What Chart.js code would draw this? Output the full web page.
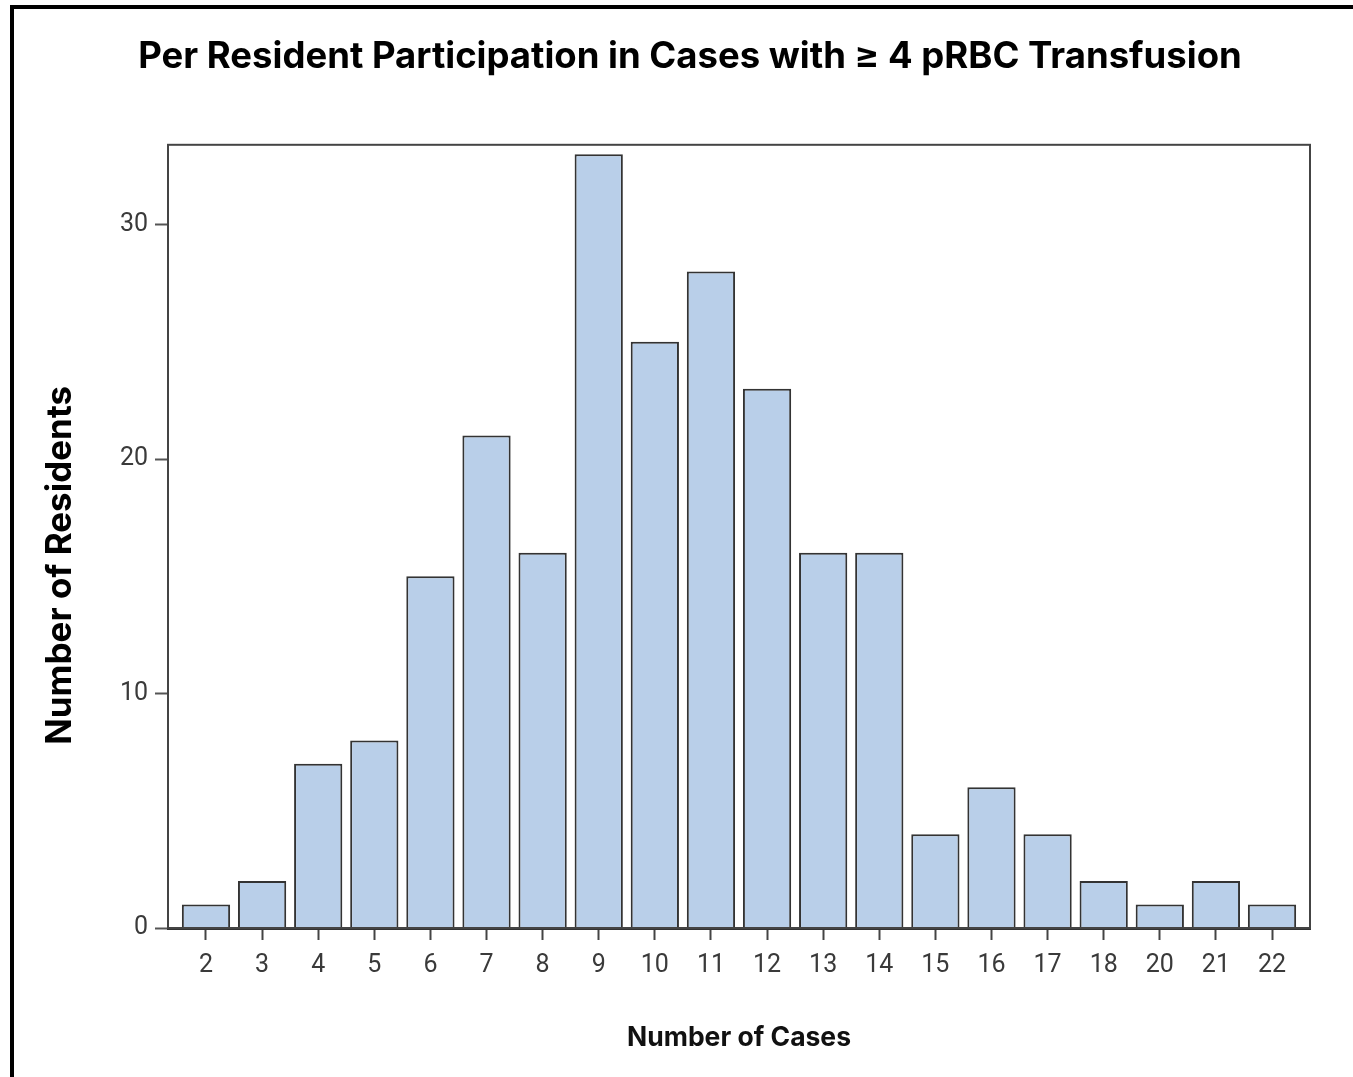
<!DOCTYPE html>
<html>
<head>
<meta charset="utf-8">
<script src="https://cdn.jsdelivr.net/npm/chart.js@4"></script>
<style>
  html, body { margin: 0; padding: 0; background: #fff; }
  #wrap { width: 1353px; height: 1077px; }
</style>
</head>
<body>
<div id="wrap"><canvas id="myChart"></canvas></div>
<script>
"use strict";

const categories = [`2`, `3`, `4`, `5`, `6`, `7`, `8`, `9`, `10`, `11`, `12`, `13`, `14`, `15`, `16`, `17`, `18`, `20`, `21`, `22`];
const residents = [1, 2, 7, 8, 15, 21, 16, 33, 25, 28, 23, 16, 16, 4, 6, 4, 2, 1, 2, 1];
const yTicks = [0, 10, 20, 30];

const tickFont = { family: `Roboto, 'Liberation Sans', sans-serif`, size: 25 };
const boldFont = `Inter, 'Liberation Sans', sans-serif`;

// outer page frame (top and left edges only) plus the plot box
const framePlugin = {
  id: `frames`,
  afterDraw(chart) {
    const { ctx, chartArea } = chart;
    ctx.save();
    ctx.strokeStyle = `#000`;
    ctx.lineWidth = 4;
    ctx.beginPath();
    ctx.moveTo(12, 1077);
    ctx.lineTo(12, 7);
    ctx.lineTo(1353, 7);
    ctx.stroke();
    ctx.strokeStyle = `#444`;
    ctx.lineWidth = 2;
    ctx.strokeRect(chartArea.left, chartArea.top, chartArea.right - chartArea.left, chartArea.bottom - chartArea.top);
    ctx.restore();
  }
};

const chartCanvas = document.getElementById(`myChart`).getContext(`2d`);
const chart = new Chart(chartCanvas, {
  type: `bar`,
  data: {
    datasets: [
      {
        label: `Residents`,
        data: residents.map((v, i) => ({ x: i, y: v })),
        backgroundColor: `#B9CFE9`,
        borderColor: `#333`,
        borderWidth: 2,
        barPercentage: 0.86,
        categoryPercentage: 1
      }
    ]
  },
  options: {
    responsive: true,
    maintainAspectRatio: false,
    animation: false,
    layout: { padding: { left: 70, right: 43, top: 0, bottom: 0 } },
    plugins: {
      legend: { display: false },
      tooltip: { enabled: false },
      title: {
        display: true,
        text: `Per Resident Participation in Cases with \u2265 4 pRBC Transfusion`,
        color: `#000`,
        font: { family: boldFont, size: 36.5, weight: `bold` },
        padding: { top: 35, bottom: 66 }
      }
    },
    scales: {
      x: {
        type: `linear`,
        offset: false,
        min: -0.677,
        max: 19.677,
        grid: { display: true, offset: false, drawOnChartArea: false, drawTicks: true, tickLength: 12, tickColor: `#444`, tickWidth: 2 },
        border: { display: true, color: `#333`, width: 3 },
        ticks: {
          stepSize: 1,
          includeBounds: false,
          autoSkip: false,
          maxRotation: 0,
          color: `#3a3a3a`,
          font: tickFont,
          padding: 11,
          callback: (value) => categories[value]
        },
        title: {
          display: true,
          text: `Number of Cases`,
          color: `#111`,
          font: { family: boldFont, size: 26.5, weight: `bold` },
          padding: { bottom: 23 }
        },
        afterFit: (scale) => { scale.height = 149; }
      },
      y: {
        min: 0,
        max: 33.4,
        afterBuildTicks: (scale) => { scale.ticks = yTicks.map((v) => ({ value: v })); },
        grid: { display: true, drawOnChartArea: false, drawTicks: true, tickLength: 13, tickColor: `#555`, tickWidth: 2 },
        border: { display: true, color: `#444`, width: 2 },
        ticks: { color: `#3a3a3a`, font: tickFont, padding: 7 },
        title: {
          display: true,
          text: `Number of Residents       `,
          color: `#000`,
          font: { family: boldFont, size: 35, weight: `bold` },
          padding: { top: -31 }
        },
        afterFit: (scale) => { scale.width = 98; }
      }
    }
  },
  plugins: [framePlugin]
});
</script>
</body>
</html>
